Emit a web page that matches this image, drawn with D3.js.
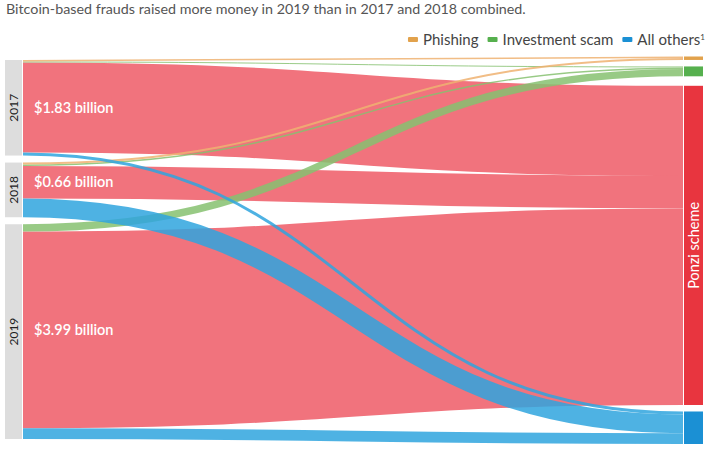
<!DOCTYPE html>
<html>
<head>
<meta charset="utf-8">
<script src="https://cdn.jsdelivr.net/npm/d3@7"></script>
<style>
  html, body { margin: 0; padding: 0; background: #fff; }
  svg { display: block; }
</style>
</head>
<body>
<svg id="chart" width="715" height="464"></svg>
<script>
// ---- data (billions of US$) ----
const years = ["2017", "2018", "2019"];
const fraudTypes = ["Phishing", "Investment scam", "Ponzi scheme", "All others"];
const phishing   = [0.03, 0.04, 0.00];
const investment = [0.02, 0.03, 0.15];
const ponzi      = [1.83, 0.66, 3.99];
const allOthers  = [0.06, 0.38, 0.22];
const yearValueLabels = ["$1.83 billion", "$0.66 billion", "$3.99 billion"];
const legendLabels = ["Phishing", "Investment scam", "All others"];
const titleText = "Bitcoin-based frauds raised more money in 2019 than in 2017 and 2018 combined.";

const series = [phishing, investment, ponzi, allOthers];

// ---- layout ----
const svg = d3.select("#chart");
const linkColor = {"Phishing": "#eeb271", "Investment scam": "#86c170", "Ponzi scheme": "#f1737d", "All others": "#2fa5de"};
const nodeColor = {"Phishing": "#e2a24c", "Investment scam": "#56b04e", "Ponzi scheme": "#e8353f", "All others": "#1b90d4"};

const leftX0 = 5, leftX1 = 22, linkX0 = 23, linkX1 = 683, rightX0 = 684, rightX1 = 703;
const leftTop = 60, leftBottom = 439, leftGap = 7;
const rightTop = 56.5, rightGaps = [6.5, 9.5, 6.5];

const yearTotals = years.map((y, i) => d3.sum(series, s => s[i]));
const typeTotals = series.map(s => d3.sum(s));
const grand = d3.sum(yearTotals);

const k = d3.scaleLinear().domain([0, grand]).range([0, (leftBottom - leftTop) - leftGap * (years.length - 1)]);

// left nodes
const leftNodes = [];
let yc = leftTop;
years.forEach((y, i) => {
  leftNodes.push({name: y, y0: yc, y1: yc + k(yearTotals[i])});
  yc += k(yearTotals[i]) + leftGap;
});
// right nodes
const rightNodes = [];
yc = rightTop;
fraudTypes.forEach((t, j) => {
  rightNodes.push({name: t, y0: yc, y1: yc + k(typeTotals[j])});
  yc += k(typeTotals[j]) + (rightGaps[j] || 0);
});

// links
const links = [];
const srcOff = leftNodes.map(n => n.y0);
const tgtOff = rightNodes.map(n => n.y0);
years.forEach((y, i) => {
  fraudTypes.forEach((t, j) => {
    const v = series[j][i];
    if (v <= 0) return;
    const w = k(v);
    links.push({year: i, type: j, value: v, width: w, sy: srcOff[i] + w / 2, ty: 0});
    srcOff[i] += w;
  });
});
fraudTypes.forEach((t, j) => {
  links.filter(l => l.type === j).sort((a, b) => a.year - b.year).forEach(l => {
    l.ty = tgtOff[j] + l.width / 2;
    tgtOff[j] += l.width;
  });
});

// ---- title ----
svg.append("text")
  .attr("x", 6).attr("y", 14)
  .attr("font-family", "Lato, 'Open Sans', sans-serif")
  .attr("font-size", 14.3)
  .attr("fill", "#555")
  .text(titleText);

// ---- legend (laid out right-to-left from measured text widths) ----
const legendTypes = ["Phishing", "Investment scam", "All others"];
const lg = svg.append("g");
let lx = 705;
for (let i = legendTypes.length - 1; i >= 0; i--) {
  const t = legendTypes[i];
  const tx = lg.append("text").attr("y", 44.5)
    .attr("font-family", "Lato, 'Open Sans', sans-serif").attr("font-size", 15)
    .attr("fill", "#444").text(legendLabels[i]);
  if (t === "All others") {
    tx.append("tspan").attr("font-size", 8).attr("dy", -5).text("1");
  }
  const w = tx.node().getComputedTextLength();
  tx.attr("x", lx - w);
  lg.append("rect").attr("x", lx - w - 15).attr("y", 37).attr("width", 10).attr("height", 5)
    .attr("rx", 1).attr("fill", nodeColor[t]);
  lx = lx - w - 15 - 9;
}

// ---- links ----
const linkGen = d3.linkHorizontal().x(d => d[0]).y(d => d[1]);
const order = [2, 1, 0, 3];
const linkG = svg.append("g").attr("fill", "none");
order.forEach(j => {
  links.filter(l => l.type === j).forEach(l => {
    linkG.append("path")
      .attr("d", linkGen({source: [linkX0, l.sy], target: [linkX1, l.ty]}))
      .attr("stroke", linkColor[fraudTypes[j]])
      .attr("stroke-width", l.width)
      .attr("stroke-opacity", j === 2 ? 1 : 0.85);
  });
});

// ---- left nodes ----
const ln = svg.append("g");
leftNodes.forEach((n, i) => {
  ln.append("rect").attr("x", leftX0).attr("y", n.y0).attr("width", leftX1 - leftX0).attr("height", n.y1 - n.y0)
    .attr("fill", "#dddddd");
  const cy = (n.y0 + n.y1) / 2;
  ln.append("text")
    .attr("transform", `translate(${(leftX0 + leftX1) / 2 + 4},${cy}) rotate(-90)`)
    .attr("text-anchor", "middle")
    .attr("font-family", "Lato, 'Open Sans', sans-serif").attr("font-size", 12)
    .attr("fill", "#222").text(n.name);
  // value label centred on the ponzi band
  const pl = links.find(l => l.year === i && l.type === 2);
  ln.append("text")
    .attr("x", 34).attr("y", pl.sy + 5)
    .attr("font-family", "Lato, 'Open Sans', sans-serif").attr("font-size", 14.5)
    .attr("font-weight", 600)
    .attr("fill", "#fff").text(yearValueLabels[i]);
});

// ---- right nodes ----
const rn = svg.append("g");
rightNodes.forEach(n => {
  rn.append("rect").attr("x", rightX0).attr("y", n.y0).attr("width", rightX1 - rightX0).attr("height", n.y1 - n.y0)
    .attr("fill", nodeColor[n.name]);
});
const pz = rightNodes[2];
rn.append("text")
  .attr("transform", `translate(${(rightX0 + rightX1) / 2 + 5},${(pz.y0 + pz.y1) / 2}) rotate(-90)`)
  .attr("text-anchor", "middle")
  .attr("font-family", "Lato, 'Open Sans', sans-serif").attr("font-size", 14.5)
  .attr("fill", "#fff").text("Ponzi scheme");
</script>
</body>
</html>
